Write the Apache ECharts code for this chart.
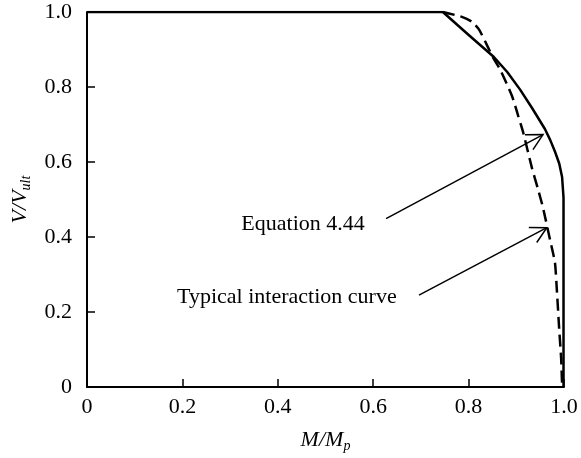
<!DOCTYPE html>
<html>
<head>
<meta charset="utf-8">
<script src="https://cdn.jsdelivr.net/npm/echarts@6/dist/echarts.min.js"></script>
<style>
html,body{margin:0;padding:0;background:#fff;}
#chart{width:581px;height:458px;}
</style>
</head>
<body>
<div id="chart"></div>
<script>
// Equation 4.44 (solid)
const eqM = [0.746, 0.799, 0.853, 0.881, 0.908, 0.933, 0.96, 0.971, 0.981, 0.99, 0.996, 0.999, 0.999];
const eqV = [1.0, 0.940, 0.880, 0.840, 0.793, 0.744, 0.688, 0.659, 0.628, 0.596, 0.56, 0.505, 0.0];
// Typical interaction curve (dashed)
const tyM = [0.746, 0.786, 0.807, 0.822, 0.841, 0.851, 0.866, 0.891, 0.904, 0.914, 0.933, 0.945, 0.956, 0.971, 0.981, 0.985, 0.990, 0.994, 0.996, 0.998];
const tyV = [1.0, 0.987, 0.974, 0.953, 0.905, 0.879, 0.847, 0.776, 0.723, 0.681, 0.583, 0.530, 0.478, 0.391, 0.332, 0.259, 0.153, 0.077, 0.011, 0.0];
// Horizontal plateau start
const eqStart = [[0, 1.0]];
// Tick labels
const xTicks = ['0', '0.2', '0.4', '0.6', '0.8', '1.0'];
const yTicks = ['0', '0.2', '0.4', '0.6', '0.8', '1.0'];
// Annotations
const labelTexts = ['Equation 4.44', 'Typical interaction curve'];
const labelPos = [[0.453, 0.434], [0.419, 0.24]];
const arrows = [[0.627, 0.449, 0.956, 0.673], [0.696, 0.245, 0.964, 0.425]];

const FONT = "'Liberation Serif', 'Times New Roman', serif";
const eqData = eqStart.concat(eqM.map((m, i) => [m, eqV[i]]));
const tyData = tyM.map((m, i) => [m, tyV[i]]);

const nameRich = {
  i: {fontFamily: FONT, fontStyle: 'italic', fontSize: 22, color: '#000'},
  s: {fontFamily: FONT, fontStyle: 'italic', fontSize: 14, color: '#000', verticalAlign: 'bottom', padding: [12, 0, 0, 0]}
};

const chart = echarts.init(document.getElementById('chart'));
chart.setOption({
  animation: false,
  backgroundColor: '#fff',
  grid: {left: 87, right: 17, top: 12, bottom: 67, containLabel: false},
  xAxis: {
    type: 'value', min: 0, max: 1, interval: 0.2,
    name: '{i|M/M}{s|p}', nameLocation: 'middle', nameGap: 40,
    nameTextStyle: {rich: nameRich},
    axisLine: {show: true, lineStyle: {color: '#000', width: 2}},
    axisTick: {show: true, inside: true, length: 8, lineStyle: {color: '#000', width: 1.5}},
    axisLabel: {margin: 9, fontFamily: FONT, fontSize: 22, color: '#000',
      formatter: (v) => xTicks[Math.round(v / 0.2)]},
    splitLine: {show: false}
  },
  yAxis: {
    type: 'value', min: 0, max: 1, interval: 0.2,
    name: '{i|V/V}{s|ult}', nameLocation: 'middle', nameGap: 52, nameRotate: 90,
    nameTextStyle: {rich: nameRich},
    axisLine: {show: true, lineStyle: {color: '#000', width: 2}},
    axisTick: {show: true, inside: true, length: 8, lineStyle: {color: '#000', width: 1.5}},
    axisLabel: {margin: 15, fontFamily: FONT, fontSize: 22, color: '#000',
      formatter: (v) => yTicks[Math.round(v / 0.2)]},
    splitLine: {show: false}
  },
  series: [
    {
      name: 'Typical interaction curve', type: 'line', data: tyData, showSymbol: false, smooth: 0.2,
      lineStyle: {color: '#000', width: 2.5, type: [12, 6]}, z: 3
    },
    {
      name: 'Equation 4.44', type: 'line', data: eqData, showSymbol: false, smooth: false,
      lineStyle: {color: '#000', width: 2.5, join: 'round'}, z: 4
    },
    {
      type: 'custom', data: arrows, z: 5,
      renderItem: function (params, api) {
        const p1 = api.coord([api.value(0), api.value(1)]);
        const p2 = api.coord([api.value(2), api.value(3)]);
        const ang = Math.atan2(p2[1] - p1[1], p2[0] - p1[0]);
        const L = 18, sp = 28 * Math.PI / 180;
        const h1 = [p2[0] - L * Math.cos(ang - sp), p2[1] - L * Math.sin(ang - sp)];
        const h2 = [p2[0] - L * Math.cos(ang + sp), p2[1] - L * Math.sin(ang + sp)];
        return {
          type: 'group',
          children: [
            {type: 'line', shape: {x1: p1[0], y1: p1[1], x2: p2[0], y2: p2[1]}, style: {stroke: '#000', lineWidth: 1.5}},
            {type: 'polyline', shape: {points: [h1, p2, h2]}, style: {stroke: '#000', fill: null, lineWidth: 1.5}}
          ]
        };
      }
    },
    {
      type: 'custom', data: labelPos.map((p, i) => [p[0], p[1], i]), z: 5,
      renderItem: function (params, api) {
        const p = api.coord([api.value(0), api.value(1)]);
        return {
          type: 'text',
          style: {x: p[0], y: p[1], text: labelTexts[api.value(2)], fill: '#000',
            font: '22px ' + FONT, textAlign: 'center', textVerticalAlign: 'middle'}
        };
      }
    }
  ]
});
</script>
</body>
</html>
